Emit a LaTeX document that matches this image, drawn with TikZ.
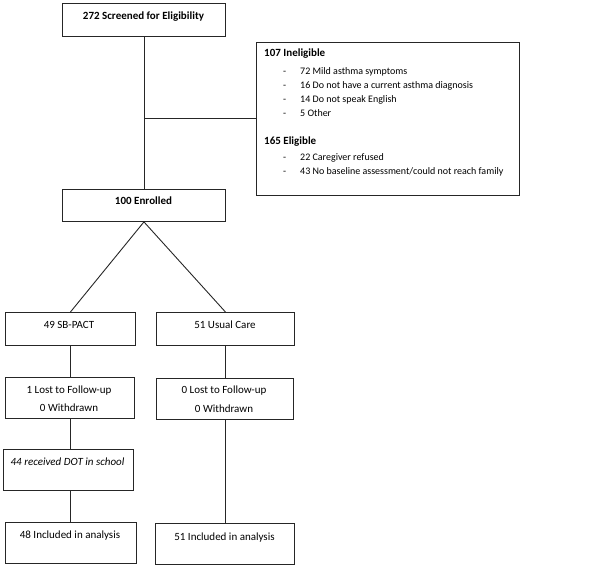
\documentclass[tikz,border=0pt]{standalone}
\usepackage{fontspec}
\setmainfont{Carlito}
\begin{document}
\begin{tikzpicture}[x=1pt,y=-1pt,
  box/.style={draw=black!85, line width=0.9pt, anchor=north west, inner sep=0pt},
  txt/.style={anchor=base, inner sep=0pt, font=\fontsize{11}{13}\selectfont},
  btxt/.style={txt, font=\fontsize{11}{13}\selectfont\bfseries},
  ltxt/.style={anchor=base west, inner sep=0pt, font=\fontsize{10}{12}\selectfont},
  conn/.style={draw=black!85, line width=0.9pt}]
\useasboundingbox (0,0) rectangle (600,569);
% boxes
\node[box, minimum width=163pt, minimum height=33pt] (screen) at (62,3) {};
\node[box, minimum width=263pt, minimum height=153pt] (inel) at (256,42) {};
\node[box, minimum width=163pt, minimum height=32pt] (enr) at (62,189) {};
\node[box, minimum width=130pt, minimum height=33pt] (sb) at (5,312) {};
\node[box, minimum width=138pt, minimum height=33pt] (uc) at (156,312) {};
\node[box, minimum width=129pt, minimum height=41pt] (lostL) at (5,377) {};
\node[box, minimum width=137pt, minimum height=41pt] (lostR) at (156,378) {};
\node[box, minimum width=130pt, minimum height=41pt] (dot) at (3,449) {};
\node[box, minimum width=131pt, minimum height=41pt] (inclL) at (5,522) {};
\node[box, minimum width=139pt, minimum height=41pt] (inclR) at (155,523) {};
% texts
\node[btxt] (screenT) at (143.5,20) {272 Screened for Eligibility};
\node[btxt] (enrT) at (143.5,205) {100 Enrolled};
\node[txt] (sbT) at (69,329) {49 SB-PACT};
\node[txt] (ucT) at (225,329) {51 Usual Care};
\node[txt] (lostLT1) at (69,393) {1 Lost to Follow-up};
\node[txt] (lostLT2) at (69,411) {0 Withdrawn};
\node[txt] (lostRT1) at (224,394) {0 Lost to Follow-up};
\node[txt] (lostRT2) at (224,412) {0 Withdrawn};
\node[txt, font=\fontsize{11}{13}\selectfont\itshape] (dotT) at (67.5,465) {44 received DOT in school};
\node[txt] (inclLT) at (70,538) {48 Included in analysis};
\node[txt] (inclRT) at (224.5,540) {51 Included in analysis};
% ineligible box contents
\node[ltxt, font=\fontsize{11}{13}\selectfont\bfseries] (h1) at (264,57) {107 Ineligible};
\foreach \yy/\tt [count=\i] in {75/{72 Mild asthma symptoms}, 89/{16 Do not have a current asthma diagnosis}, 103/{14 Do not speak English}, 117/{5 Other}}{
  \node[ltxt] (d1\i) at (283,\yy) {-};
  \node[ltxt] (a\i) at (300,\yy) {\tt};
}
\node[ltxt, font=\fontsize{11}{13}\selectfont\bfseries] (h2) at (264,145) {165 Eligible};
\foreach \yy/\tt [count=\i] in {161/{22 Caregiver refused}, 175/{43 No baseline assessment/could not reach family}}{
  \node[ltxt] (d2\i) at (283,\yy) {-};
  \node[ltxt] (b\i) at (300,\yy) {\tt};
}
% connectors
\coordinate (j) at (screen.south |- inel.west);
\draw[conn] (screen.south) -- (enr.north);
\draw[conn] (j) -- (inel.west);
\draw[conn] (enr.south) -- (sb.north);
\draw[conn] (enr.south) -- (uc.north);
\draw[conn] (sb.south) -- (sb.south |- lostL.north);
\draw[conn] (sb.south |- lostL.south) -- (sb.south |- dot.north);
\draw[conn] (sb.south |- dot.south) -- (sb.south |- inclL.north);
\draw[conn] (uc.south) -- (uc.south |- lostR.north);
\draw[conn] (uc.south |- lostR.south) -- (uc.south |- inclR.north);
\end{tikzpicture}
\end{document}
